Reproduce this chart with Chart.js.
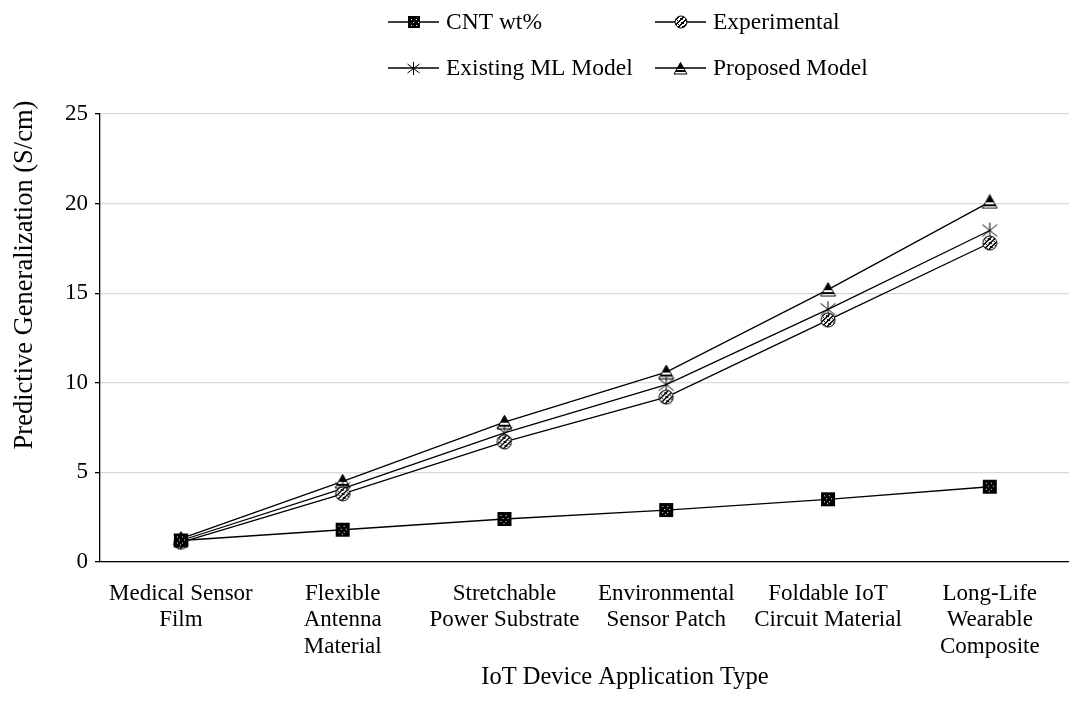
<!DOCTYPE html>
<html>
<head>
  <title>IoT Device Application Type</title>
  <style>
    body {
      margin: 0;
      background: #fff;
      overflow: hidden;
    }
    #wrap {
      width: 1069px;
      height: 718px;
      overflow: hidden;
    }
  </style>
</head>
<body>
  <div id="wrap">
    <canvas id="chart" width="1080" height="718"></canvas>
  </div>

  <script src="https://cdn.jsdelivr.net/npm/chart.js"></script>
  <script>
    const categories = [
      ["Medical Sensor", "Film"],
      ["Flexible", "Antenna", "Material"],
      ["Stretchable", "Power Substrate"],
      ["Environmental", "Sensor Patch"],
      ["Foldable IoT", "Circuit Material"],
      ["Long-Life", "Wearable", "Composite"]
    ];
    const cntWt = [1.2, 1.8, 2.4, 2.9, 3.5, 4.2];
    const experimental = [1.1, 3.8, 6.7, 9.2, 13.5, 17.8];
    const existingML = [1.2, 4.1, 7.2, 9.9, 14.1, 18.5];
    const proposed = [1.3, 4.5, 7.8, 10.6, 15.2, 20.1];
    const seriesNames = ["CNT wt%", "Experimental", "Existing ML Model", "Proposed Model"];
    const yTitle = 'Predictive Generalization (S/cm)';
    const xTitle = 'IoT Device Application Type';

    const serif = "'Liberation Serif', 'Times New Roman', serif";

    // little marker canvases, patterned like the office-style markers
    function makeSquare(s) {
      const c = document.createElement('canvas');
      c.width = s; c.height = s;
      const g = c.getContext('2d');
      g.fillStyle = '#000';
      g.fillRect(1, 1, s - 2, s - 2);
      g.fillStyle = '#fff';
      [[4, 4], [9, 4], [6, 7], [11, 7], [4, 10], [9, 10], [7, 12]].forEach(p => {
        if (p[0] < s - 2 && p[1] < s - 2) g.fillRect(p[0], p[1], 1, 1);
      });
      return c;
    }

    function makeCircle(s) {
      const c = document.createElement('canvas');
      c.width = s; c.height = s;
      const g = c.getContext('2d');
      const r = s / 2 - 1;
      g.save();
      g.beginPath();
      g.arc(s / 2, s / 2, r, 0, Math.PI * 2);
      g.clip();
      g.fillStyle = '#fff';
      g.fillRect(0, 0, s, s);
      g.fillStyle = '#000';
      for (let px = 0; px < s; px++) {
        for (let py = 0; py < s; py++) {
          const d = (px + py) % 5;
          if (d < 2 || ((px * 3 + py) % 7 === 0)) g.fillRect(px, py, 1, 1);
        }
      }
      g.restore();
      g.beginPath();
      g.arc(s / 2, s / 2, r, 0, Math.PI * 2);
      g.lineWidth = 1;
      g.strokeStyle = '#000';
      g.stroke();
      return c;
    }

    function makeStar(s) {
      const c = document.createElement('canvas');
      c.width = s; c.height = s;
      const g = c.getContext('2d');
      const m = s / 2;
      g.strokeStyle = '#000';
      g.lineWidth = 1;
      g.beginPath();
      g.moveTo(m, 1); g.lineTo(m, s - 1);
      g.moveTo(1.5, 3); g.lineTo(s - 1.5, s - 3);
      g.moveTo(s - 1.5, 3); g.lineTo(1.5, s - 3);
      g.stroke();
      return c;
    }

    function makeTriangle(w, h) {
      const c = document.createElement('canvas');
      c.width = w; c.height = h;
      const g = c.getContext('2d');
      const path = () => {
        g.beginPath();
        g.moveTo(w / 2, 0.5); g.lineTo(w - 1, h - 1); g.lineTo(1, h - 1); g.closePath();
      };
      g.save();
      path();
      g.clip();
      g.fillStyle = '#fff';
      g.fillRect(0, 0, w, h);
      g.fillStyle = '#000';
      g.fillRect(0, 0, w, Math.round(h * 0.5));
      g.fillRect(0, Math.round(h * 0.64), w, Math.round(h * 0.16));
      g.restore();
      path();
      g.strokeStyle = '#000';
      g.lineWidth = 1;
      g.stroke();
      return c;
    }

    const markers = [makeSquare(16), makeCircle(16), makeStar(18), makeTriangle(17, 15)];
    const legendMarkers = [makeSquare(14), makeCircle(14), makeStar(15), makeTriangle(15, 13)];
    const seriesData = [cntWt, experimental, existingML, proposed];

    // legend drawn as a 2x2 grid above the plot; axis titles drawn at their own spots
    const extras = {
      id: 'extras',
      afterDraw(chart) {
        const ctx = chart.ctx;
        const cols = [388, 655];
        const rows = [22, 68];
        ctx.save();
        ctx.font = '23.5px ' + serif;
        ctx.fillStyle = '#000';
        ctx.textBaseline = 'middle';
        seriesNames.forEach((name, i) => {
          const x = cols[i % 2];
          const y = rows[Math.floor(i / 2)];
          ctx.beginPath();
          ctx.moveTo(x, y);
          ctx.lineTo(x + 51, y);
          ctx.strokeStyle = '#000';
          ctx.lineWidth = 1.3;
          ctx.stroke();
          const m = legendMarkers[i];
          ctx.drawImage(m, Math.round(x + 25.5 - m.width / 2), Math.round(y - m.height / 2));
          ctx.fillText(name, x + 58, y + 1);
        });

        ctx.textAlign = 'center';
        ctx.font = '24.5px ' + serif;
        ctx.fillText(xTitle, 625, 678);

        ctx.translate(25, 275);
        ctx.rotate(-Math.PI / 2);
        ctx.font = '26.5px ' + serif;
        ctx.fillText(yTitle, 0, 0);
        ctx.restore();
      }
    };

    const ctx = document.getElementById('chart').getContext('2d');
    new Chart(ctx, {
      type: 'line',
      data: {
        labels: categories,
        datasets: seriesNames.map((name, i) => ({
          label: name,
          data: seriesData[i],
          borderColor: '#000',
          backgroundColor: '#000',
          borderWidth: 1.3,
          pointStyle: markers[i],
          pointRadius: 8,
          pointHoverRadius: 8,
          tension: 0,
          fill: false
        }))
      },
      options: {
        responsive: false,
        animation: false,
        layout: {
          padding: { top: 114, left: 0, right: 0, bottom: 0 }
        },
        plugins: {
          legend: { display: false },
          tooltip: { enabled: false }
        },
        scales: {
          x: {
            offset: true,
            grid: { display: false, drawTicks: false },
            border: { display: true, color: '#000', width: 1.3 },
            ticks: {
              color: '#000',
              font: { family: serif, size: 23, lineHeight: 1.17 },
              maxRotation: 0,
              autoSkip: false,
              padding: 18
            },
            afterFit(scale) { scale.height = 718 - 562; }
          },
          y: {
            min: 0,
            max: 25,
            ticks: {
              stepSize: 5,
              color: '#000',
              font: { family: serif, size: 23 },
              padding: 7
            },
            grid: {
              color: '#d9d9d9',
              lineWidth: 1.3,
              tickColor: '#000',
              tickLength: 5
            },
            border: { display: true, color: '#000', width: 1.3 },
            afterFit(scale) { scale.width = 100; }
          }
        }
      },
      plugins: [extras]
    });
  </script>
</body>
</html>
